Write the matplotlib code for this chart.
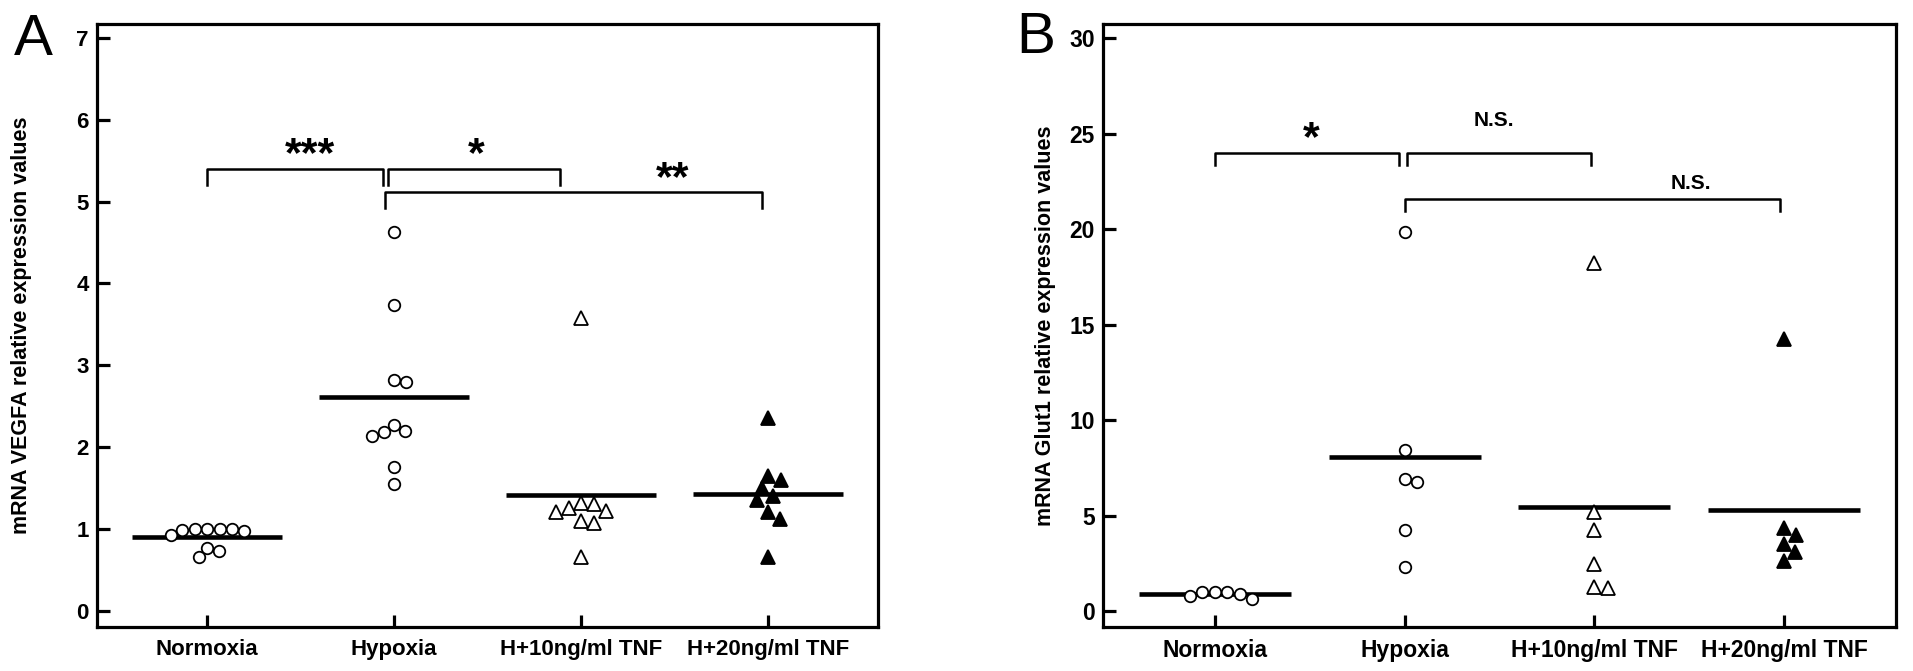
import matplotlib.pyplot as plt
import numpy as np

plt.rcParams['font.family'] = ['Liberation Sans', 'DejaVu Sans']

groups = ['Normoxia', 'Hypoxia', 'H+10ng/ml TNF', 'H+20ng/ml TNF']

# panel A: VEGFA
vegfa_normoxia = [1.0, 1.0, 1.0, 1.0, 0.99, 0.97, 0.93, 0.77, 0.73, 0.66]
vegfa_hypoxia = [4.63, 3.73, 2.82, 2.80, 2.27, 2.20, 2.18, 2.13, 1.75, 1.55]
vegfa_tnf10 = [3.58, 1.32, 1.30, 1.25, 1.22, 1.20, 1.10, 1.07, 0.65]
vegfa_tnf20 = [2.35, 1.65, 1.60, 1.50, 1.40, 1.35, 1.20, 1.12, 0.65]

# panel B: Glut1
glut1_normoxia = [0.98, 0.98, 0.98, 0.88, 0.80, 0.65]
glut1_hypoxia = [19.88, 8.46, 6.91, 6.75, 4.25, 2.32]
glut1_tnf10 = [18.24, 5.21, 4.25, 2.49, 1.26, 1.21]
glut1_tnf20 = [14.27, 4.33, 3.98, 3.54, 3.10, 2.61]

# significance brackets: x start, x end, height, label, label x, label offset (pt)
sig_a = [(1.0, 1.94, 5.40, '***', 1.55, 2),
         (1.97, 2.89, 5.40, '*', 2.44, 2),
         (1.95, 3.97, 5.12, '**', 3.49, 1)]
sig_b = [(1.0, 1.97, 24.0, '*', 1.51, 2),
         (2.01, 2.98, 24.0, 'N.S.', 2.47, 19),
         (2.0, 3.98, 21.6, 'N.S.', 3.51, 7)]

styles = [dict(marker='o', mfc='white', ms=8.3),
          dict(marker='o', mfc='white', ms=8.3),
          dict(marker='^', mfc='white', ms=9.5),
          dict(marker='^', mfc='black', ms=9.5)]


def swarm(ax, vals, xc, size_px):
    # spread points sideways so they don't overlap (pixel space)
    tr = ax.transData
    x0 = tr.transform((xc, 0))[0]
    placed = []
    xs = []
    for v in vals:
        y = tr.transform((xc, v))[1]
        cands = [0.0]
        for px, py in placed:
            dy = abs(y - py)
            if dy < size_px:
                dx = np.sqrt(size_px**2 - dy**2)
                cands += [px + dx, px - dx]
        cands.sort(key=abs)
        for c in cands:
            if all((c - px)**2 + (y - py)**2 >= size_px**2 - 1e-6 for px, py in placed):
                break
        placed.append((c, y))
        xs.append(tr.inverted().transform((x0 + c, y))[0])
    return xs


def panel(ax, data, ylim, yticks, ylabel, sig, leg, tick_font, tick_size, txt_sizes):
    ax.set_xlim(0.41, 4.59)
    ax.set_ylim(*ylim)
    for s in ax.spines.values():
        s.set_linewidth(2.3)
    ax.set_xticks(range(1, 5))
    ax.set_xticklabels(groups)
    ax.set_yticks(yticks)
    ax.tick_params(direction='in', length=9, width=2.3)
    ax.tick_params(axis='x', pad=9)
    ax.tick_params(axis='y', pad=6)
    for lab in ax.get_xticklabels() + ax.get_yticklabels():
        lab.set_fontweight('bold')
        lab.set_fontfamily(tick_font)
        lab.set_fontsize(tick_size)
    ax.set_ylabel(ylabel, fontsize=15.5, fontweight='bold')

    for i, vals in enumerate(data):
        xc = i + 1
        xs = swarm(ax, vals, xc, 12.5 if styles[i]['marker'] == 'o' else 13.5)
        ax.plot(xs, vals, ls='none', mec='black', mew=1.3, zorder=3, **styles[i])
        ax.hlines(np.mean(vals), xc - 0.4, xc + 0.4, color='black', lw=3.3, zorder=2)

    for x1, x2, y, lab, xt, off in sig:
        ax.plot([x1, x1, x2, x2], [y - leg, y, y, y - leg], color='black', lw=1.8)
        size = txt_sizes[0] if '*' in lab else txt_sizes[1]
        ax.annotate(lab, (xt, y), xytext=(0, off), textcoords='offset points',
                    ha='center', va='baseline', fontsize=size, fontweight='bold',
                    fontfamily=tick_font)


fig = plt.figure(figsize=(19.13, 6.71), dpi=100)
ax_a = fig.add_axes([0.0507, 0.0656, 0.4083, 0.8987])
ax_b = fig.add_axes([0.5766, 0.0656, 0.4145, 0.8987])

panel(ax_a, [vegfa_normoxia, vegfa_hypoxia, vegfa_tnf10, vegfa_tnf20],
      (-0.2, 7.17), range(0, 8), 'mRNA VEGFA relative expression values',
      sig_a, 0.2, ['Liberation Sans', 'DejaVu Sans'], 16, (31, 14))
ax_a.yaxis.set_label_coords(-0.083, 0.5)

panel(ax_b, [glut1_normoxia, glut1_hypoxia, glut1_tnf10, glut1_tnf20],
      (-0.83, 30.75), range(0, 31, 5), 'mRNA Glut1 relative expression values',
      sig_b, 0.63, ['Liberation Sans Narrow', 'Liberation Sans'], 16.5, (31, 15))
ax_b.yaxis.set_label_coords(-0.059, 0.5)

fig.text(33 / 1913, 1 - 40 / 671, 'A', fontsize=42, ha='center', va='center')
fig.text(1036 / 1913, 1 - 38 / 671, 'B', fontsize=42, ha='center', va='center')

fig.savefig('out.png', dpi=100)
